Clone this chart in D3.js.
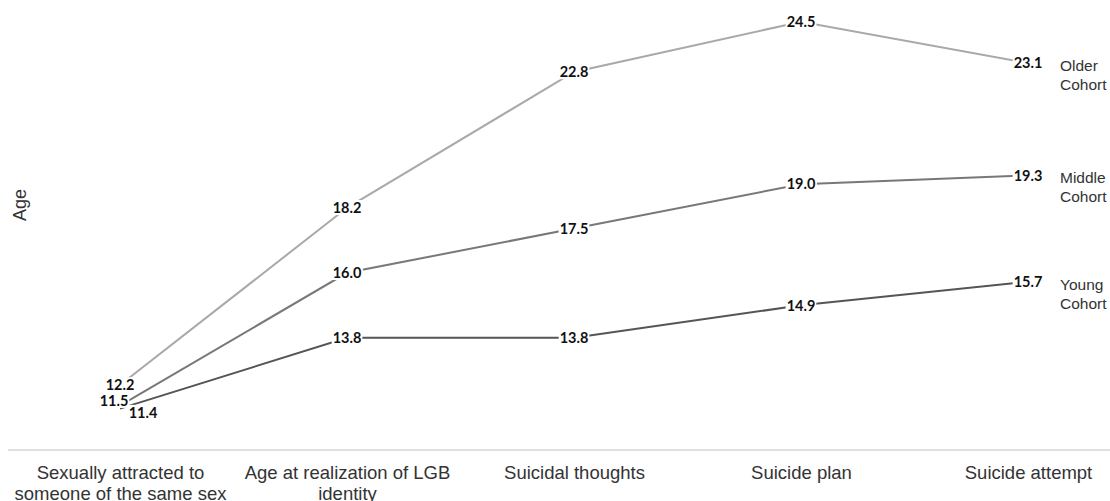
<!DOCTYPE html>
<html>
<head>
<meta charset="utf-8">
<script src="https://cdn.jsdelivr.net/npm/d3@7"></script>
<style>
  html, body { margin: 0; padding: 0; background: #fff; }
  svg { display: block; }
</style>
</head>
<body>
<svg id="chart" width="1110" height="501"></svg>
<script>
// data
const categories = ["attracted", "realization", "thoughts", "plan", "attempt"]
const tickLines = [
  ["Sexually attracted to", "someone of the same sex"],
  ["Age at realization of LGB", "identity"],
  ["Suicidal thoughts"],
  ["Suicide plan"],
  ["Suicide attempt"]
]
const seriesNames = [["Older", "Cohort"], ["Middle", "Cohort"], ["Young", "Cohort"]]
const olderValues = [12.2, 18.2, 22.8, 24.5, 23.1]
const middleValues = [11.5, 16.0, 17.5, 19.0, 19.3]
const youngValues = [11.4, 13.8, 13.8, 14.9, 15.7]

const width = 1110, height = 501
const svg = d3.select("#chart")

const x = d3.scalePoint().domain(categories).range([120, 1028])
const y = d3.scaleLinear().domain([10, 25]).range([450, 7])

const series = [
  {name: seriesNames[0], values: olderValues, color: "#a9a9a9"},
  {name: seriesNames[1], values: middleValues, color: "#787878"},
  {name: seriesNames[2], values: youngValues, color: "#555555"}
]
// label nudges where the first points crowd together
const nudge = {1: {0: [-6, -5]}, 2: {0: [23, 4]}}

// baseline rule
svg.append("line")
  .attr("x1", 8).attr("x2", width)
  .attr("y1", y(10)).attr("y2", y(10))
  .attr("stroke", "#d6d6d6").attr("stroke-width", 1.5)

// category labels via axis
const xAxis = d3.axisBottom(x).tickSize(0).tickFormat("")
const gx = svg.append("g").attr("transform", "translate(0," + y(10) + ")").call(xAxis)
gx.select(".domain").remove()
gx.selectAll(".tick").each(function(d, i) {
  const t = d3.select(this).append("text")
    .attr("text-anchor", "middle")
    .attr("fill", "#333")
    .style("font-family", "'Liberation Sans', Arial, sans-serif")
    .style("font-size", "18.5px")
  tickLines[i].forEach((line, j) => {
    t.append("tspan").attr("x", 0).attr("y", 29 + j * 21).text(line)
  })
})

// y title
svg.append("text")
  .attr("transform", "translate(26,205) rotate(-90)")
  .attr("text-anchor", "middle")
  .attr("fill", "#333")
  .style("font-family", "'Liberation Sans', Arial, sans-serif")
  .style("font-size", "18px")
  .text("Age")

const line = d3.line().x((d, i) => x(categories[i])).y(d => y(d))

// lines, young first so older sits on top
series.slice().reverse().forEach(s => {
  svg.append("path")
    .datum(s.values)
    .attr("d", line)
    .attr("fill", "none")
    .attr("stroke", s.color)
    .attr("stroke-width", 2)
})

// value labels with white backing
series.forEach((s, si) => {
  s.values.forEach((v, i) => {
    const off = (nudge[si] && nudge[si][i]) || [0, 0]
    const g = svg.append("g")
      .attr("transform", "translate(" + (x(categories[i]) + off[0]) + "," + (y(v) + off[1]) + ")")
    const rect = g.append("rect").attr("fill", "#fff")
    const t = g.append("text")
      .attr("text-anchor", "middle")
      .attr("dy", "0.36em")
      .attr("fill", "#111")
      .style("font-family", "Lato, 'Open Sans', sans-serif")
      .style("font-weight", "bold")
      .style("font-size", "14.5px")
      .text(v.toFixed(1))
    const b = t.node().getBBox()
    rect.attr("x", b.x - 1).attr("y", b.y + 1)
      .attr("width", b.width + 2).attr("height", b.height - 2)
  })
})

// series names at the right end
series.forEach(s => {
  const last = s.values[s.values.length - 1]
  const t = svg.append("text")
    .attr("fill", "#333")
    .style("font-family", "'Liberation Sans', Arial, sans-serif")
    .style("font-size", "15.5px")
  s.name.forEach((w, j) => {
    t.append("tspan").attr("x", 1060).attr("y", y(last) + 8 + j * 19).text(w)
  })
})
</script>
</body>
</html>
